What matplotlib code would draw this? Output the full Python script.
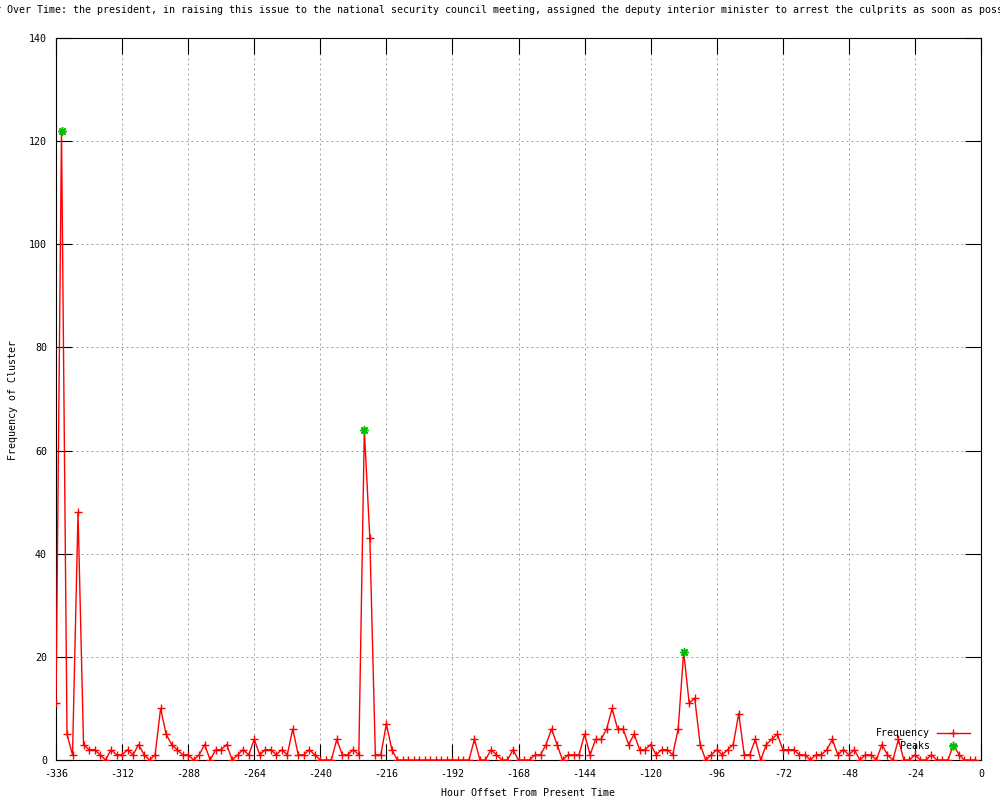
import matplotlib
matplotlib.use("Agg")
import matplotlib.pyplot as plt
from matplotlib.lines import Line2D

hours = list(range(-336, 0, 2))
frequency = [
    11, 122, 5, 1, 48, 3, 2, 2, 1, 0, 2, 1, 1, 2, 1, 3, 1, 0, 1, 10,
    5, 3, 2, 1, 1, 0, 1, 3, 0, 2, 2, 3, 0, 1, 2, 1, 4, 1, 2, 2,
    1, 2, 1, 6, 1, 1, 2, 1, 0, 0, 0, 4, 1, 1, 2, 1, 64, 43, 1, 1,
    7, 2, 0, 0, 0, 0, 0, 0, 0, 0, 0, 0, 0, 0, 0, 0, 4, 0, 0, 2,
    1, 0, 0, 2, 0, 0, 0, 1, 1, 3, 6, 3, 0, 1, 1, 1, 5, 1, 4, 4,
    6, 10, 6, 6, 3, 5, 2, 2, 3, 1, 2, 2, 1, 6, 21, 11, 12, 3, 0, 1,
    2, 1, 2, 3, 9, 1, 1, 4, 0, 3, 4, 5, 2, 2, 2, 1, 1, 0, 1, 1,
    2, 4, 1, 2, 1, 2, 0, 1, 1, 0, 3, 1, 0, 4, 0, 0, 1, 0, 0, 1,
    0, 0, 0, 3, 1, 0, 0, 0,
]
peak_hours = [-334, -224, -108]
peak_values = [122, 64, 21]

x_ticks = list(range(-336, 1, 24))
y_ticks = list(range(0, 141, 20))

title = ("Frequency of Cluster Over Time: the president, in raising this issue to the "
         "national security council meeting, assigned the deputy interior minister to "
         "arrest the culprits as soon as possible")
x_label = "Hour Offset From Present Time"
y_label = "Frequency of Cluster"

RED = "#ff0000"
GREEN = "#00c000"
FONT = "DejaVu Sans Mono"
FS = 7.2

fig = plt.figure(figsize=(10, 8), dpi=100)
ax = fig.add_axes([0.056, 0.05, 0.925, 0.9025])

ax.plot(hours, frequency, color=RED, lw=1.0, marker="+", ms=6, mew=1.0, zorder=3)
ax.plot(peak_hours, peak_values, ls="none", marker=(8, 2, 0), color=GREEN,
        ms=6, mew=1.0, zorder=4)

ax.set_xlim(-336, 0)
ax.set_ylim(0, 140)
ax.set_xticks(x_ticks)
ax.set_yticks(y_ticks)
ax.set_xticklabels([str(v).replace("-", "\u2212") if False else str(v) for v in x_ticks],
                   fontfamily=FONT, fontsize=FS)
ax.set_yticklabels([str(v) for v in y_ticks], fontfamily=FONT, fontsize=FS)
ax.tick_params(direction="in", length=11.5, width=0.8, top=True, right=True,
               pad=6.5, colors="black")
for s in ax.spines.values():
    s.set_linewidth(0.8)
ax.grid(True, color="#a0a0a0", lw=0.72, ls=(0, (2, 3)))
ax.set_axisbelow(True)

ax.set_xlabel(x_label, fontfamily=FONT, fontsize=FS, va="center")
ax.xaxis.set_label_coords(0.510, -0.0457)
ax.set_ylabel(y_label, fontfamily=FONT, fontsize=FS, va="center")
ax.yaxis.set_label_coords(-0.0465, 0.4986)

fig.text(-0.119, 1 - 10 / 800, title, ha="left", va="center",
         fontfamily=FONT, fontsize=FS)

# legend (gnuplot style: right-aligned text, sample to the right)
ax.text(0.9449, 0.0374, "Frequency", transform=ax.transAxes, ha="right",
        va="center", fontfamily=FONT, fontsize=FS)
ax.text(0.9449, 0.0194, "Peaks", transform=ax.transAxes, ha="right",
        va="center", fontfamily=FONT, fontsize=FS)
ax.add_line(Line2D([0.9524, 0.9881], [0.0374, 0.0374], transform=ax.transAxes,
                   color=RED, lw=1.0, zorder=5))
ax.add_line(Line2D([0.9697], [0.0374], transform=ax.transAxes, color=RED,
                   marker="+", ms=6, mew=1.0, ls="none", zorder=5))
ax.add_line(Line2D([0.9697], [0.0194], transform=ax.transAxes, color=GREEN,
                   marker=(8, 2, 0), ms=6, mew=1.0, ls="none", zorder=5))

fig.savefig("out.png", dpi=100)
